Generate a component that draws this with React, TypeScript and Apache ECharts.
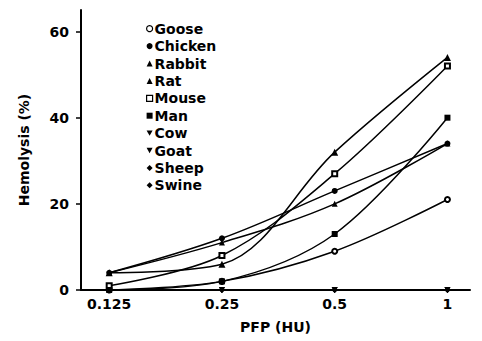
import React, { useEffect, useRef } from "react";
import * as echarts from "echarts";

const doses = [-3, -2, -1, 0]; // log2 of PFP (HU)
const doseLabels = ["0.125", "0.25", "0.5", "1"];
const yTicks = [0, 20, 40, 60];

const speciesNames = ["Goose", "Chicken", "Rabbit", "Rat", "Mouse", "Man", "Cow", "Goat", "Sheep", "Swine"];
const goose = [0, 2, 9, 21];
const chicken = [4, 12, 23, 34];
const rabbit = [4, 6, 32, 54];
const rat = [4, 11, 20, 34];
const mouse = [1, 8, 27, 52];
const man = [0, 2, 13, 40];
const cow = [0, 0, 0, 0];
const goat = [0, 0, 0, 0];
const sheep = [0, 0, 0, 0];
const swine = [0, 0, 0, 0];

const INV_TRI = "path://M0,0L10,0L5,9Z";
const symbols = ["emptyCircle", "circle", "triangle", "triangle", "emptyRect", "rect", INV_TRI, INV_TRI, "diamond", "diamond"];
const symbolSizes = [5, 6, 7, 6, 5, 6, 6, 6, 6, 6];
const legendIcons = ["circle", "circle", "triangle", "triangle", "rect", "rect", INV_TRI, INV_TRI, "diamond", "diamond"];
const hollow = [true, false, false, false, true, false, false, false, false, false];
const values = [goose, chicken, rabbit, rat, mouse, man, cow, goat, sheep, swine];

const FONT = "DejaVu Sans";

export default function App() {
  const ref = useRef<HTMLDivElement>(null);
  useEffect(() => {
    const chart = echarts.init(ref.current!, null, { renderer: "svg" });
    chart.setOption({
      animation: false,
      backgroundColor: "#fff",
      textStyle: { fontFamily: FONT, fontWeight: "bold", color: "#000" },
      grid: { left: 81, right: 12, top: 10, bottom: 51, outerBoundsMode: "none" },
      legend: {
        orient: "vertical",
        left: 141,
        top: 15,
        itemWidth: 6,
        itemHeight: 6,
        itemGap: 0,
        selectedMode: false,
        textStyle: { fontFamily: FONT, fontWeight: "bold", fontSize: 14, color: "#000", lineHeight: 17.4, padding: [0, 0, 0, -3] },
        data: speciesNames.map((n, i) => ({
          name: n,
          icon: legendIcons[i],
          itemStyle: hollow[i]
            ? { color: "#fff", borderColor: "#000", borderWidth: 1.2 }
            : { color: "#000", borderWidth: 0 },
        })),
      },
      xAxis: {
        type: "value",
        min: -3.25,
        max: 0.2,
        name: "PFP (HU)",
        nameLocation: "middle",
        nameGap: 30,
        nameTextStyle: { fontFamily: FONT, fontWeight: "bold", fontSize: 14, color: "#000" },
        splitLine: { show: false },
        axisLine: { lineStyle: { color: "#000", width: 2 } },
        axisTick: { show: false },
        axisLabel: {
          customValues: doses,
          formatter: (v: number) => doseLabels[doses.indexOf(Math.round(v))] ?? "",
          fontFamily: FONT,
          fontWeight: "bold",
          fontSize: 14,
          color: "#000",
          margin: 7,
        },
      },
      yAxis: {
        type: "value",
        min: 0,
        max: 65,
        name: "Hemolysis (%)",
        nameLocation: "middle",
        nameGap: 50,
        nameTextStyle: { fontFamily: FONT, fontWeight: "bold", fontSize: 14, color: "#000" },
        splitLine: { show: false },
        axisLine: { show: true, onZero: false, lineStyle: { color: "#000", width: 2 } },
        axisTick: { show: true, customValues: yTicks, length: 5, lineStyle: { color: "#000", width: 1.5 } },
        axisLabel: {
          customValues: yTicks,
          fontFamily: FONT,
          fontWeight: "bold",
          fontSize: 14,
          color: "#000",
          margin: 12,
        },
      },
      series: speciesNames.map((n, i) => ({
        name: n,
        type: "line",
        smooth: 0.35,
        symbol: symbols[i],
        symbolSize: symbolSizes[i],
        showSymbol: true,
        lineStyle: { color: "#000", width: 1.5 },
        itemStyle: { color: "#000", borderColor: "#000", borderWidth: hollow[i] ? 1.2 : 0 },
        data: doses.map((d, j) => [d, values[i][j]]),
      })),
    });
    return () => chart.dispose();
  }, []);
  return <div ref={ref} style={{ position: "fixed", left: 0, top: 0, width: 482, height: 341 }} />;
}
